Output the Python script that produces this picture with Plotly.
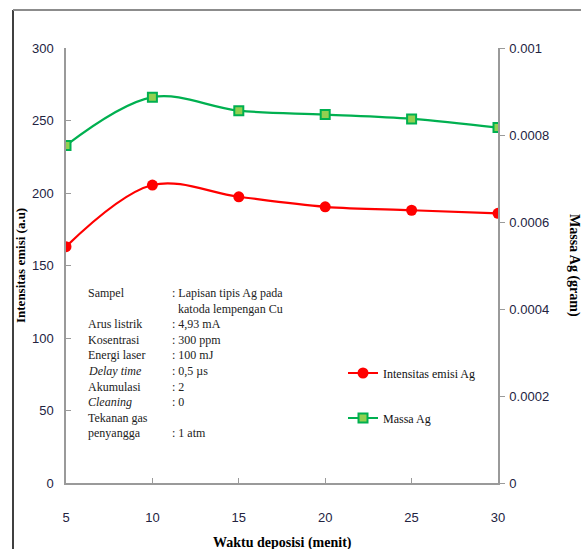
import plotly.graph_objects as go

# Deposition time (minutes)
waktu = [5, 10, 15, 20, 25, 30]
# Ag emission intensity (a.u.)
intensitas = [163, 205.5, 197.4, 190.5, 188.1, 186.0]
# Deposited Ag mass (gram)
massa = [0.000776, 0.000887, 0.000856, 0.000847, 0.000837, 0.000817]

x_ticks = [5, 10, 15, 20, 25, 30]
y_ticks = [0, 50, 100, 150, 200, 250, 300]
y2_ticks = [0, 0.0002, 0.0004, 0.0006, 0.0008, 0.001]
y2_labels = ["0", "0.0002", "0.0004", "0.0006", "0.0008", "0.001"]

# Experimental conditions shown in the info block
info_rows = [
    ("Sampel", ": Lapisan tipis Ag pada"),
    ("", "  katoda lempengan Cu"),
    ("Arus listrik", ": 4,93 mA"),
    ("Kosentrasi", ": 300 ppm"),
    ("Energi laser", ": 100 mJ"),
    ("<i>Delay time</i>", ": 0,5 µs"),
    ("Akumulasi", ": 2"),
    ("<i>Cleaning</i>", ": 0"),
    ("Tekanan gas", ""),
    ("penyangga", ": 1 atm"),
]

W, H = 581, 549
L, R, T, B = 66, 498, 48, 483


def px(x):
    return (x - L) / (R - L)


def py(y):
    return (B - y) / (B - T)


SERIF = "Liberation Serif, Times New Roman, serif"
SANS = "Liberation Sans Narrow, Liberation Sans, Arial, sans-serif"
TICK_COLOR = "#23233f"
AXIS_COLOR = "#9a9a9a"

fig = go.Figure()
fig.add_trace(go.Scatter(
    x=waktu, y=intensitas, name="Intensitas emisi Ag",
    mode="lines+markers", line=dict(color="#ff0000", width=2.2, shape="spline"),
    marker=dict(symbol="circle", size=11, color="#ff0000"),
    legend="legend",
))
fig.add_trace(go.Scatter(
    x=waktu, y=massa, name="Massa Ag", yaxis="y2",
    mode="lines+markers", line=dict(color="#00b050", width=2.2, shape="spline"),
    marker=dict(symbol="square", size=9, color="#92d050",
                line=dict(color="#00b050", width=2)),
    legend="legend2",
))

annotations = []
row_h = 15.6
for i, (label, value) in enumerate(info_rows):
    yy = 293 + i * row_h
    if label:
        annotations.append(dict(
            x=px(86), y=py(yy), xref="paper", yref="paper", text=label,
            showarrow=False, xanchor="left", yanchor="middle",
            font=dict(family=SERIF, size=12, color="#222222")))
    if value:
        annotations.append(dict(
            x=px(170), y=py(yy), xref="paper", yref="paper", text=value.replace("  ", "&nbsp;&nbsp;"),
            showarrow=False, xanchor="left", yanchor="middle",
            font=dict(family=SERIF, size=12, color="#222222")))

# Axis titles
annotations.append(dict(
    x=px(20), y=py(266), xref="paper", yref="paper", text="<b>Intensitas emisi (a.u)</b>",
    textangle=-90, showarrow=False, xanchor="center", yanchor="middle",
    font=dict(family=SERIF, size=13, color="#000000")))
annotations.append(dict(
    x=px(574), y=py(265), xref="paper", yref="paper", text="<b>Massa Ag (gram)</b>",
    textangle=90, showarrow=False, xanchor="center", yanchor="middle",
    font=dict(family=SERIF, size=14, color="#000000")))
annotations.append(dict(
    x=px(282), y=py(543), xref="paper", yref="paper", text="<b>Waktu deposisi (menit)</b>",
    showarrow=False, xanchor="center", yanchor="middle",
    font=dict(family=SERIF, size=14, color="#000000")))

# Outer frame edges
shapes = [
    dict(type="line", xref="paper", yref="paper", x0=px(13), x1=px(13),
         y0=py(10), y1=py(560), line=dict(color="#000000", width=1.5)),
    dict(type="line", xref="paper", yref="paper", x0=px(13), x1=px(590),
         y0=py(10), y1=py(10), line=dict(color="#8c8c8c", width=2)),
]

fig.update_layout(
    width=W, height=H,
    margin=dict(l=L, r=W - R, t=T, b=H - B),
    paper_bgcolor="white", plot_bgcolor="white",
    showlegend=True,
    xaxis=dict(range=[5, 30], tickvals=x_ticks, showgrid=False, zeroline=False,
               showline=True, linecolor=AXIS_COLOR, linewidth=1.5,
               ticks="inside", ticklen=5, tickcolor=AXIS_COLOR,
               ticklabelstandoff=22,
               tickfont=dict(family=SANS, size=13, color=TICK_COLOR)),
    yaxis=dict(range=[0, 300], tickvals=y_ticks, showgrid=False, zeroline=False,
               showline=True, linecolor=AXIS_COLOR, linewidth=1.5,
               ticks="inside", ticklen=5, tickcolor=AXIS_COLOR,
               ticklabelstandoff=8,
               tickfont=dict(family=SANS, size=13, color=TICK_COLOR)),
    yaxis2=dict(range=[0, 0.001], tickvals=y2_ticks, ticktext=y2_labels,
                overlaying="y", side="right", showgrid=False, zeroline=False,
                showline=True, linecolor=AXIS_COLOR, linewidth=1.5,
                ticks="outside", ticklen=5, tickcolor=AXIS_COLOR,
                ticklabelstandoff=2,
                tickfont=dict(family=SANS, size=13, color=TICK_COLOR)),
    legend=dict(x=px(343), y=py(373), xanchor="left", yanchor="middle",
                bgcolor="rgba(0,0,0,0)", borderwidth=0,
                font=dict(family=SERIF, size=12, color="#111111")),
    legend2=dict(x=px(343), y=py(418), xanchor="left", yanchor="middle",
                 bgcolor="rgba(0,0,0,0)", borderwidth=0,
                 font=dict(family=SERIF, size=12, color="#111111")),
    annotations=annotations,
    shapes=shapes,
)

fig.write_html("out.html")
